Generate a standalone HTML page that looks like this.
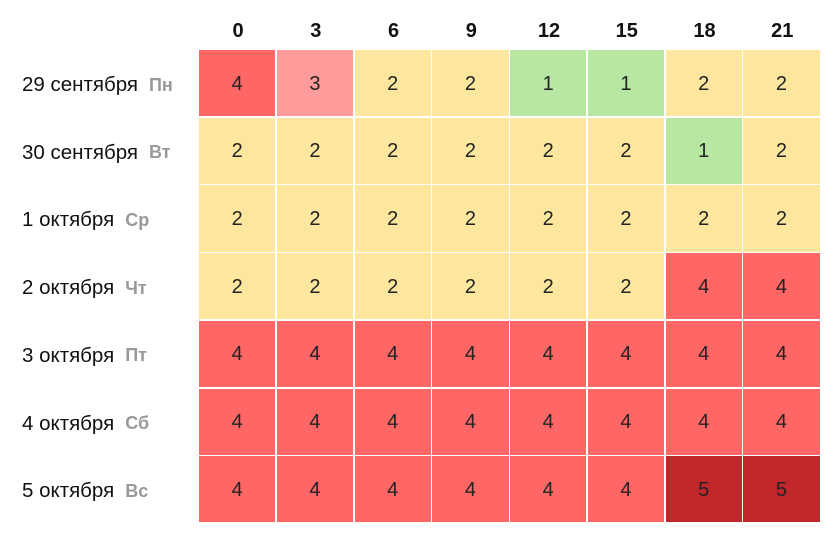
<!DOCTYPE html><html><head><meta charset="utf-8"><style>
body{margin:0;width:836px;height:558px;background:#fff;font-family:"Liberation Sans",sans-serif;position:relative;overflow:hidden}
.c{position:absolute;display:flex;align-items:center;justify-content:center;font-size:20px;color:#222;padding-top:2px;box-sizing:border-box}
.h{position:absolute;top:20px;font-weight:bold;font-size:20px;width:78px;text-align:center;color:#111}
.l{position:absolute;left:22px;font-size:20.5px;color:#111;display:flex;align-items:center;height:68px;padding-top:2px;box-sizing:border-box}
.l b{color:#999;font-size:18px;margin-left:11px}
</style></head><body>
<div id="g"></div>
<script>
var hrs=[0,3,6,9,12,15,18,21];
var labels=[["29 сентября","Пн"],["30 сентября","Вт"],["1 октября","Ср"],["2 октября","Чт"],["3 октября","Пт"],["4 октября","Сб"],["5 октября","Вс"]];
var d=[[4,3,2,2,1,1,2,2],[2,2,2,2,2,2,1,2],[2,2,2,2,2,2,2,2],[2,2,2,2,2,2,4,4],[4,4,4,4,4,4,4,4],[4,4,4,4,4,4,4,4],[4,4,4,4,4,4,5,5]];
var col={1:"#b7e7a3",2:"#fde79f",3:"#fd9c9a",4:"#fe6766",5:"#c1272a"};
var x0=199,y0=50,w=77.75,h=67.7,s="";
hrs.forEach(function(v,i){s+='<div class="h" style="left:'+(x0+i*w)+'px">'+v+'</div>'});
labels.forEach(function(v,r){s+='<div class="l" style="top:'+(y0+r*h)+'px">'+v[0]+'<b>'+v[1]+'</b></div>';
d[r].forEach(function(val,i){s+='<div class="c" style="left:'+(x0+i*w)+'px;top:'+(y0+r*h)+'px;width:'+(w-1.5)+'px;height:'+(h-1.5)+'px;background:'+col[val]+'">'+val+'</div>'})});
document.getElementById('g').innerHTML=s;
</script>
</body></html>
